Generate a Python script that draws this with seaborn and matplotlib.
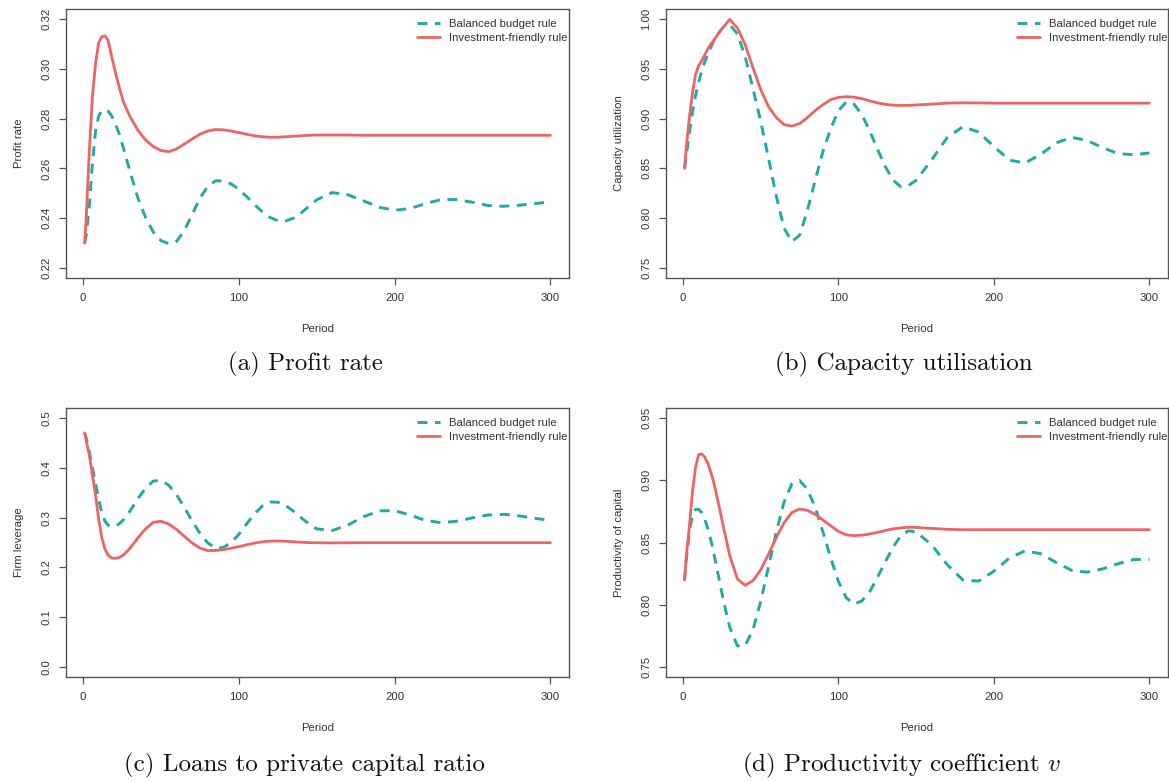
import matplotlib
matplotlib.use("Agg")
import matplotlib.pyplot as plt
import seaborn as sns
import pandas as pd

# Simulation periods at which the trajectories are recorded
period = [1, 2, 4, 6, 8, 10, 12, 14, 16, 18, 20, 23, 26, 30,
          35, 40, 45, 50, 55, 60, 65, 70, 75, 80, 85, 90, 95, 100, 105, 110,
          115, 120, 125, 130, 135, 140, 145, 150,
          160, 170, 180, 190, 200, 210, 220, 230, 240, 250, 260, 270, 280, 290, 300]

# (a) Profit rate
profit_balanced = [0.230, 0.233, 0.245, 0.262, 0.275, 0.281, 0.2832, 0.2835, 0.2830, 0.2815, 0.2790, 0.2742, 0.2680, 0.2590,
                   0.2485, 0.2405, 0.2345, 0.2310, 0.2298, 0.2307, 0.2350, 0.2415, 0.2480, 0.2528, 0.2550, 0.2550, 0.2538, 0.2516, 0.2487, 0.2455,
                   0.2426, 0.2403, 0.2390, 0.2389, 0.2400, 0.2421, 0.2448, 0.2474,
                   0.2503, 0.2494, 0.2470, 0.2444, 0.2432, 0.2439, 0.2459, 0.2475, 0.2475, 0.2464, 0.2451, 0.2448, 0.2452, 0.2459, 0.2465]
profit_invest = [0.230, 0.240, 0.267, 0.289, 0.302, 0.3105, 0.3128, 0.3132, 0.3115, 0.3060, 0.3005, 0.2930, 0.2865, 0.2810,
                 0.2755, 0.2715, 0.2688, 0.2672, 0.2667, 0.2678, 0.2698, 0.2718, 0.2737, 0.2750, 0.2756, 0.2755, 0.2750, 0.2744, 0.2737, 0.2731,
                 0.2727, 0.2725, 0.2725, 0.2727, 0.2729, 0.2731, 0.2733, 0.2734,
                 0.2734, 0.2734, 0.2733, 0.2733, 0.2733, 0.2733, 0.2733, 0.2733, 0.2733, 0.2733, 0.2733, 0.2733, 0.2733, 0.2733, 0.2733]

# (b) Capacity utilisation
capacity_balanced = [0.850, 0.862, 0.885, 0.906, 0.923, 0.936, 0.948, 0.957, 0.965, 0.972, 0.979, 0.986, 0.992, 0.9945,
                     0.985, 0.962, 0.930, 0.897, 0.860, 0.822, 0.790, 0.7765, 0.783, 0.808, 0.838, 0.867, 0.890, 0.908, 0.9168, 0.9144,
                     0.9042, 0.888, 0.8696, 0.8521, 0.8384, 0.8317, 0.8327, 0.8382,
                     0.8588, 0.8811, 0.8919, 0.8866, 0.8719, 0.8583, 0.8555, 0.8639, 0.8756, 0.8812, 0.8780, 0.8708, 0.8647, 0.8638, 0.8655]
capacity_invest = [0.850, 0.870, 0.900, 0.925, 0.944, 0.953, 0.958, 0.964, 0.970, 0.975, 0.979, 0.986, 0.992, 0.9995,
                   0.991, 0.974, 0.951, 0.929, 0.912, 0.901, 0.894, 0.8925, 0.895, 0.901, 0.908, 0.914, 0.919, 0.9213, 0.922, 0.9215,
                   0.920, 0.9178, 0.9158, 0.9143, 0.9135, 0.9132, 0.9133, 0.9137,
                   0.9145, 0.9155, 0.9158, 0.9157, 0.9155, 0.9155, 0.9155, 0.9155, 0.9155, 0.9155, 0.9155, 0.9155, 0.9155, 0.9155, 0.9155]

# (c) Loans to private capital ratio
leverage_balanced = [0.470, 0.460, 0.432, 0.400, 0.368, 0.338, 0.310, 0.293, 0.285, 0.2817, 0.2823, 0.287, 0.2958, 0.3127,
                     0.337, 0.3586, 0.3732, 0.3747, 0.365, 0.3459, 0.3206, 0.2932, 0.2685, 0.2493, 0.2391, 0.2400, 0.2498, 0.2664, 0.2872, 0.3072,
                     0.3231, 0.3313, 0.3309, 0.3243, 0.3131, 0.2998, 0.2872, 0.2774,
                     0.2741, 0.2851, 0.3016, 0.3136, 0.3140, 0.3051, 0.2941, 0.2898, 0.2928, 0.2994, 0.3052, 0.3065, 0.3035, 0.2985, 0.2945]
leverage_invest = [0.470, 0.455, 0.425, 0.385, 0.345, 0.297, 0.260, 0.237, 0.225, 0.2195, 0.2180, 0.2195, 0.2250, 0.2380,
                   0.2585, 0.2770, 0.2905, 0.2927, 0.2870, 0.2762, 0.2624, 0.2491, 0.2390, 0.2338, 0.2340, 0.2356, 0.2385, 0.2417, 0.2454, 0.2487,
                   0.2513, 0.2528, 0.2530, 0.2525, 0.2515, 0.2505, 0.2498, 0.2494,
                   0.2492, 0.2494, 0.2496, 0.2496, 0.2496, 0.2496, 0.2496, 0.2496, 0.2496, 0.2496, 0.2496, 0.2496, 0.2496, 0.2496, 0.2496]

# (d) Productivity coefficient v
productivity_balanced = [0.820, 0.835, 0.858, 0.872, 0.8765, 0.8767, 0.874, 0.8686, 0.8609, 0.8513, 0.8401, 0.8218, 0.8033, 0.7821,
                         0.7670, 0.7673, 0.7800, 0.8028, 0.8307, 0.8584, 0.8827, 0.8971, 0.8998, 0.8927, 0.8783, 0.8584, 0.8375, 0.8185, 0.8056, 0.8006,
                         0.8030, 0.8104, 0.8218, 0.8342, 0.8460, 0.8554, 0.8594, 0.8585,
                         0.8480, 0.8321, 0.8199, 0.8190, 0.8270, 0.8376, 0.8433, 0.8410, 0.8340, 0.8276, 0.8262, 0.8288, 0.8330, 0.8363, 0.8365]
productivity_invest = [0.820, 0.838, 0.862, 0.890, 0.910, 0.9205, 0.9212, 0.9185, 0.9133, 0.9060, 0.8971, 0.8801, 0.8625, 0.8397,
                       0.8206, 0.8156, 0.8194, 0.8282, 0.8406, 0.8541, 0.8658, 0.8741, 0.8769, 0.8758, 0.8726, 0.8681, 0.8634, 0.8589, 0.8561, 0.8555,
                       0.8559, 0.8568, 0.8581, 0.8596, 0.8609, 0.8618, 0.8622, 0.8621,
                       0.8613, 0.8606, 0.8603, 0.8603, 0.8603, 0.8603, 0.8603, 0.8603, 0.8603, 0.8603, 0.8603, 0.8603, 0.8603, 0.8603, 0.8603]

rule_names = ["Balanced budget rule", "Investment-friendly rule"]
y_labels = ["Profit rate", "Capacity utilization", "Firm leverage", "Productivity of capital"]
captions = ["(a) Profit rate", "(b) Capacity utilisation",
            "(c) Loans to private capital ratio", r"(d) Productivity coefficient $v$"]
x_ticks = [0, 100, 200, 300]
y_ticks = [[0.22, 0.24, 0.26, 0.28, 0.30, 0.32],
           [0.75, 0.80, 0.85, 0.90, 0.95, 1.00],
           [0.0, 0.1, 0.2, 0.3, 0.4, 0.5],
           [0.75, 0.80, 0.85, 0.90, 0.95]]
y_fmt = ["{:.2f}", "{:.2f}", "{:.1f}", "{:.2f}"]
series = [(profit_balanced, profit_invest),
          (capacity_balanced, capacity_invest),
          (leverage_balanced, leverage_invest),
          (productivity_balanced, productivity_invest)]

sns.set_theme(style="ticks")
plt.rcParams["font.family"] = ["Liberation Sans", "DejaVu Sans"]
plt.rcParams["mathtext.fontset"] = "cm"

TEAL = "#22A9A1"
RED = "#EE6363"
FRAME = "#555555"
TXT = "#333333"
FS = 8.2

fig = plt.figure(figsize=(11.69, 7.82), dpi=100)
W, H = 1169.0, 782.0
# axes boxes in pixels: left, top, right, bottom
boxes = [(66, 9, 569, 278), (666, 9, 1168, 278),
         (66, 408, 569, 677), (666, 408, 1168, 677)]
caption_pos = [(305, 364), (904, 364), (304, 765), (902, 765)]

for i, (l, t, r, b) in enumerate(boxes):
    ax = fig.add_axes([l / W, 1 - b / H, (r - l) / W, (b - t) / H])
    bb, inv = series[i]
    df = pd.DataFrame({"Period": period * 2,
                       "value": bb + inv,
                       "rule": [rule_names[0]] * len(period) + [rule_names[1]] * len(period)})
    sns.lineplot(data=df[df["rule"] == rule_names[0]], x="Period", y="value", ax=ax,
                 color=TEAL, lw=2.1, linestyle=(0, (3.4, 2.6)), label=rule_names[0])
    sns.lineplot(data=df[df["rule"] == rule_names[1]], x="Period", y="value", ax=ax,
                 color=RED, lw=2.0, label=rule_names[1])

    yt = y_ticks[i]
    pad = 0.04 * (yt[-1] - yt[0])
    ax.set_ylim(yt[0] - pad, yt[-1] + pad)
    ax.set_xlim(1 - 0.04 * 299, 300 + 0.04 * 299)
    ax.set_xticks(x_ticks)
    ax.set_xticklabels([str(v) for v in x_ticks])
    ax.set_yticks(yt)
    ax.set_yticklabels([y_fmt[i].format(v) for v in yt], rotation=90, va="center")

    for s in ax.spines.values():
        s.set_visible(True)
        s.set_color(FRAME)
        s.set_linewidth(1.0)
    ax.tick_params(axis="both", direction="out", length=5, width=0.9, color=FRAME,
                   labelsize=FS, labelcolor=TXT, pad=5.5)

    ax.set_xlabel("Period", fontsize=FS, color=TXT, va="center")
    ax.set_ylabel(y_labels[i], fontsize=FS, color=TXT, va="center")
    ax.xaxis.set_label_coords(0.5, -51 / (b - t))
    ax.yaxis.set_label_coords(-47 / (r - l), 0.5)

    leg = ax.legend(loc="upper left", bbox_to_anchor=(351 / (r - l), 1 - 10 / (b - t)),
                    frameon=False, fontsize=FS, handlelength=2.0, handletextpad=0.8,
                    labelspacing=0.38, borderpad=0, borderaxespad=0)
    for txt in leg.get_texts():
        txt.set_color(TXT)

    cx, cy = caption_pos[i]
    fig.text(cx / W, 1 - cy / H, captions[i], ha="center", va="center",
             fontsize=18, family="cmr10", color="#111111")

fig.savefig("out.png", dpi=100)
